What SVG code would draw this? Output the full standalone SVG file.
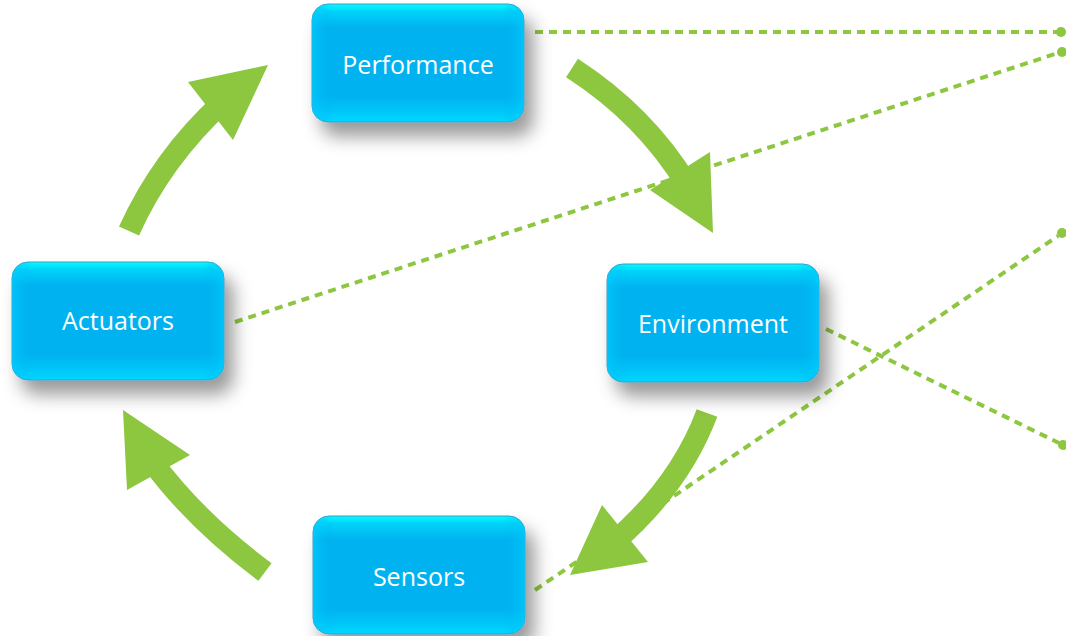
<svg xmlns="http://www.w3.org/2000/svg" width="1066" height="636" viewBox="0 0 1066 636">
<style>
.box{fill:url(#gv);stroke:#3f9cc4;stroke-width:1}
.gl{fill:url(#gh)}
.lbl{font-family:"Open Sans","Noto Sans",sans-serif;font-size:25px;fill:#ffffff;text-anchor:middle}
.dash{fill:none;stroke:#8dc63f;stroke-width:4;stroke-dasharray:8 6;stroke-linecap:butt}
.dot{fill:#8dc63f}
.shaft{fill:none;stroke:#8dc63f;stroke-width:22}
.head{fill:#8dc63f}
</style>
<defs>
<linearGradient id="gv" x1="0" y1="0" x2="0" y2="1">
<stop offset="0" stop-color="#00ffff"/>
<stop offset="0.06" stop-color="#00d4fa"/>
<stop offset="0.2" stop-color="#00b2f0"/>
<stop offset="0.78" stop-color="#00b2f0"/>
<stop offset="0.9" stop-color="#00c4f8"/>
<stop offset="1" stop-color="#00d8ff"/>
</linearGradient>
<linearGradient id="gh" x1="0" y1="0" x2="1" y2="0">
<stop offset="0" stop-color="#00d0ff" stop-opacity="0.6"/>
<stop offset="0.1" stop-color="#00b2f0" stop-opacity="0"/>
<stop offset="0.9" stop-color="#00b2f0" stop-opacity="0"/>
<stop offset="1" stop-color="#00d0ff" stop-opacity="0.6"/>
</linearGradient>
<filter id="sh" x="-20%" y="-20%" width="150%" height="160%">
<feDropShadow dx="9" dy="14" stdDeviation="9" flood-color="#000" flood-opacity="0.4"/>
</filter>
</defs>
<rect width="1066" height="636" fill="#ffffff"/>
<g id="connectors">
<line class="dash" x1="535" y1="32" x2="1058" y2="32"/>
<circle class="dot" cx="1061" cy="32" r="5"/>
<line class="dash" x1="235" y1="322" x2="1058" y2="53"/>
<circle class="dot" cx="1062" cy="52" r="5"/>
<line class="dash" x1="535" y1="590" x2="1058" y2="236"/>
<circle class="dot" cx="1062" cy="233" r="5"/>
<line class="dash" x1="826" y1="329" x2="1059" y2="443"/>
<circle class="dot" cx="1063" cy="445" r="5"/>
<g id="arrow-act-perf">
<path class="shaft" d="M129,231 Q162,158 223,102"/>
<polygon class="head" points="268,65 188,82 233,140"/>
</g>
<g id="arrow-perf-env">
<path class="shaft" d="M572,68 Q645,115 688,186"/>
<polygon class="head" points="713,233 650,190 710,152"/>
</g>
<g id="arrow-env-sens">
<path class="shaft" d="M707,413 Q680,485 614,542"/>
<polygon class="head" points="570,575 602,505 648,562"/>
</g>
<g id="arrow-sens-act">
<path class="shaft" d="M265,572 Q195,520 151,460"/>
<polygon class="head" points="123,410 190,455 127,490"/>
</g>
</g>
<g id="performance">
<g filter="url(#sh)"><rect class="box" x="312" y="4" width="212" height="118" rx="16"/></g>
<rect class="gl" x="312" y="4" width="212" height="118" rx="16"/>
<text class="lbl" x="418" y="74">Performance</text>
</g>
<g id="actuators">
<g filter="url(#sh)"><rect class="box" x="12" y="262" width="212" height="118" rx="16"/></g>
<rect class="gl" x="12" y="262" width="212" height="118" rx="16"/>
<text class="lbl" x="118" y="330">Actuators</text>
</g>
<g id="environment">
<g filter="url(#sh)"><rect class="box" x="607" y="264" width="212" height="118" rx="16"/></g>
<rect class="gl" x="607" y="264" width="212" height="118" rx="16"/>
<text class="lbl" x="713" y="333">Environment</text>
</g>
<g id="sensors">
<g filter="url(#sh)"><rect class="box" x="313" y="516" width="212" height="118" rx="16"/></g>
<rect class="gl" x="313" y="516" width="212" height="118" rx="16"/>
<text class="lbl" x="419" y="586">Sensors</text>
</g>
</svg>
